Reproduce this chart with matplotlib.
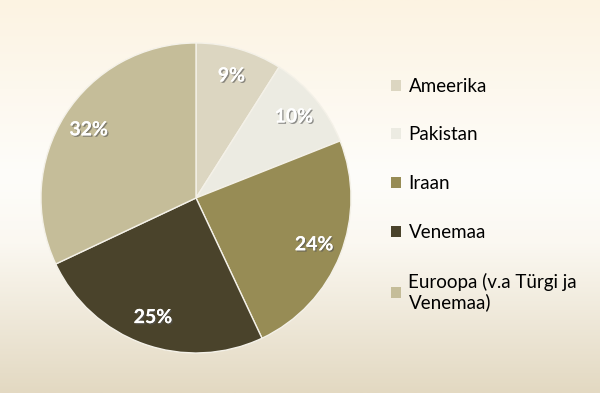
import numpy as np
import matplotlib.pyplot as plt
import matplotlib.patheffects as pe
from matplotlib.colors import LinearSegmentedColormap

# Data
regions = ["Ameerika", "Pakistan", "Iraan", "Venemaa", "Euroopa (v.a Türgi ja\nVenemaa)"]
shares = [9, 10, 24, 25, 32]
colors = ["#dcd6c1", "#ecebe2", "#978c55", "#4a432b", "#c5bd99"]

plt.rcParams['font.family'] = ['Lato', 'DejaVu Sans']

fig = plt.figure(figsize=(6, 3.93), dpi=100)

# background gradient (cream -> white -> beige)
bg = fig.add_axes([0, 0, 1, 1], zorder=-10)
grad_cmap = LinearSegmentedColormap.from_list(
    "bg", [(0, "#fcf3e2"), (0.45, "#fefdfa"), (0.62, "#fbf8f1"), (1, "#e3d9c2")])
bg.imshow(np.linspace(0, 1, 256).reshape(-1, 1), aspect='auto', cmap=grad_cmap,
          extent=[0, 1, 0, 1])
bg.axis('off')

# pie axes
ax = fig.add_axes([0.0683, 0.1018, 0.5167, 0.7888])
wedges, _ = ax.pie(shares, colors=colors, startangle=90, counterclock=False,
                   radius=1, wedgeprops=dict(edgecolor='#f4f1e8', linewidth=1.0))
ax.set_xlim(-1, 1)
ax.set_ylim(-1, 1)
ax.set_aspect('equal')

# percentage labels
shadow = [pe.withSimplePatchShadow(offset=(1, -1), shadow_rgbFace='#555555', alpha=0.6),
          pe.Normal()]
for val, w in zip(shares, wedges):
    mid = np.deg2rad((w.theta1 + w.theta2) / 2)
    r = 0.82
    ax.text(r * np.cos(mid), r * np.sin(mid), f"{val}%", ha='center', va='center',
            color='white', fontsize=14, fontweight='bold', path_effects=shadow)

# legend
handles = [plt.Rectangle((0, 0), 1, 1, facecolor=c, edgecolor='none') for c in colors]
fig.legend(handles, regions, loc='upper left', bbox_to_anchor=(0.623, 0.845),
           frameon=False, fontsize=13.5, labelspacing=1.69, handlelength=0.55,
           handleheight=0.55, handletextpad=0.4)

fig.savefig("out.png", dpi=100)
